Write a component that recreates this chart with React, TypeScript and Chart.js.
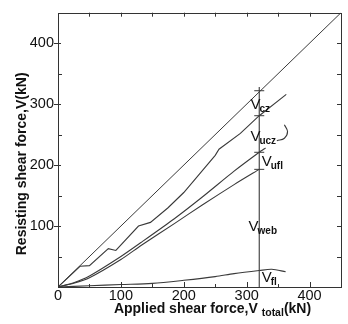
import React, { useEffect, useRef } from 'react';
import { Chart, registerables } from 'chart.js';
Chart.register(...registerables);

const axisTicks = [0, 100, 200, 300, 400];
const axisMin = 0;
const axisMax = 450;

const diagonalX = [0, 450];
const diagonalY = [0, 450];

const uczX = [0, 35, 50, 80, 92, 128, 147, 175, 200, 250, 256, 290, 320, 363];
const uczY = [0, 34, 35, 63, 60, 100, 106, 130, 155, 216, 226, 252, 281, 316];

const uflX = [0, 25, 50, 100, 132, 185, 230, 280, 320, 330];
const uflY = [0, 7, 18, 50, 73, 112, 148, 190, 221, 228];

const lowerX = [0, 25, 50, 100, 132, 185, 230, 280, 320];
const lowerY = [0, 6, 15, 45, 68, 104, 135, 168, 193];

const flX = [0, 50, 100, 150, 200, 250, 280, 320, 340, 362];
const flY = [0, 2, 4, 6, 11, 17, 22, 27, 29, 25];

const hookX = [348, 360, 365, 360];
const hookY = [240, 244, 255, 266];

const totalX = [320, 320];
const webY = [0, 328];
const markerY = [322, 281, 221, 193];

const labelMain = ['V', 'V', 'V', 'V', 'V'];
const labelSub = ['cz', 'ucz', 'ufl', 'web', 'fl'];
const labelX = [306, 306, 324, 303, 324];
const labelY = [292, 239, 199, 92, 8];

const FONT = "'Liberation Sans', Arial, Helvetica, sans-serif";
const LINE = '#3a3a3a';

const pts = (xs: number[], ys: number[]) => xs.map((x, i) => ({ x, y: ys[i] }));

const framePlugin = {
  id: 'frame',
  afterDraw(chart: any) {
    const { ctx, chartArea: a, scales } = chart;
    const x = scales.x;
    const y = scales.y;
    ctx.save();
    ctx.strokeStyle = '#333';
    ctx.lineWidth = 1;
    ctx.strokeRect(Math.round(a.left) + 0.5, Math.round(a.top) + 0.5, Math.round(a.right - a.left), Math.round(a.bottom - a.top));
    ctx.beginPath();
    for (let v = 50; v < axisMax; v += 50) {
      const px = Math.round(x.getPixelForValue(v)) + 0.5;
      const py = Math.round(y.getPixelForValue(v)) + 0.5;
      const major = v % 100 === 0;
      ctx.moveTo(px, a.bottom);
      ctx.lineTo(px, a.bottom - (major ? 5 : 3));
      ctx.moveTo(px, a.top);
      ctx.lineTo(px, a.top + 4);
      if (major) {
        ctx.moveTo(a.left - 4, py);
        ctx.lineTo(a.left + 3, py);
      } else {
        ctx.moveTo(a.left, py);
        ctx.lineTo(a.left + 4, py);
      }
      ctx.moveTo(a.right, py);
      ctx.lineTo(a.right - 4, py);
    }
    ctx.stroke();

    // annotation labels
    ctx.fillStyle = '#111';
    ctx.textBaseline = 'alphabetic';
    ctx.textAlign = 'left';
    for (let i = 0; i < labelMain.length; i++) {
      const lx = x.getPixelForValue(labelX[i]);
      const ly = y.getPixelForValue(labelY[i]);
      ctx.font = `15px ${FONT}`;
      ctx.fillText(labelMain[i], lx, ly);
      const w = ctx.measureText(labelMain[i]).width;
      ctx.font = `bold 10px ${FONT}`;
      ctx.fillText(labelSub[i], lx + w - 1, ly + 3);
    }

    // x title
    const cx = (a.left + a.right) / 2 + 13;
    const p1 = 'Applied shear force,V ';
    const p2 = 'total';
    const p3 = '(kN)';
    ctx.font = `bold 14px ${FONT}`;
    const w1 = ctx.measureText(p1).width;
    const w3 = ctx.measureText(p3).width;
    ctx.font = `bold 10.5px ${FONT}`;
    const w2 = ctx.measureText(p2).width;
    const sx = cx - (w1 + w2 + w3) / 2;
    const by = a.bottom + 26;
    ctx.font = `bold 14px ${FONT}`;
    ctx.fillText(p1, sx, by);
    ctx.font = `bold 10.5px ${FONT}`;
    ctx.fillText(p2, sx + w1, by + 3);
    ctx.font = `bold 14px ${FONT}`;
    ctx.fillText(p3, sx + w1 + w2, by);

    // y title
    ctx.save();
    ctx.translate(26, (a.top + a.bottom) / 2 + 14);
    ctx.rotate(-Math.PI / 2);
    ctx.textAlign = 'center';
    ctx.font = `bold 14px ${FONT}`;
    ctx.fillText('Resisting shear force,V(kN)', 0, 0);
    ctx.restore();
    ctx.restore();
  },
};

const lineDs = (data: any[], width = 1.1) => ({
  data,
  showLine: true,
  borderColor: LINE,
  borderWidth: width,
  pointRadius: 0,
  tension: 0,
  fill: false,
});

export default function App() {
  const ref = useRef<HTMLCanvasElement>(null);
  useEffect(() => {
    document.body.style.margin = '0';
    const chart = new Chart(ref.current!, {
      type: 'scatter',
      data: {
        datasets: [
          lineDs(pts(diagonalX, diagonalY), 1),
          lineDs(pts(uczX, uczY)),
          { ...lineDs(pts(uflX, uflY)), tension: 0.2 },
          { ...lineDs(pts(lowerX, lowerY)), tension: 0.2 },
          { ...lineDs(pts(flX, flY)), tension: 0.3 },
          { ...lineDs(pts(hookX, hookY)), tension: 0.4 },
          lineDs(pts(totalX, webY)),
          {
            data: markerY.map((v) => ({ x: totalX[0], y: v })),
            showLine: false,
            pointStyle: 'line',
            pointRadius: 5,
            pointBorderWidth: 1,
            pointBorderColor: LINE,
            borderColor: LINE,
          },
        ],
      },
      options: {
        animation: false,
        responsive: false,
        events: [],
        layout: { padding: { left: 0, top: 4, right: 7, bottom: 0 } },
        plugins: { legend: { display: false }, tooltip: { enabled: false } },
        scales: {
          x: {
            type: 'linear',
            min: axisMin,
            max: axisMax,
            grid: { display: false, drawTicks: false },
            border: { display: false },
            afterBuildTicks: (s: any) => {
              s.ticks = axisTicks.map((v) => ({ value: v }));
            },
            afterFit: (s: any) => {
              s.height = 37;
            },
            ticks: {
              autoSkip: false,
              maxRotation: 0,
              padding: 0,
              color: '#111',
              font: { family: FONT, size: 14.5 },
              callback: (v: any) => String(v),
            },
          },
          y: {
            type: 'linear',
            min: axisMin,
            max: axisMax,
            grid: { display: false, drawTicks: false },
            border: { display: false },
            afterBuildTicks: (s: any) => {
              s.ticks = axisTicks.map((v) => ({ value: v }));
            },
            afterFit: (s: any) => {
              s.width = 58;
            },
            ticks: {
              autoSkip: false,
              padding: 4,
              color: '#111',
              font: { family: FONT, size: 14.5 },
              callback: (v: any) => (v === 0 ? '' : String(v)),
            },
          },
        },
      },
      plugins: [framePlugin],
    });
    return () => chart.destroy();
  }, []);
  return (
    <div style={{ position: 'fixed', left: 0, top: 0, width: 348, height: 324, background: '#fff' }}>
      <canvas ref={ref} width={348} height={324} />
    </div>
  );
}
